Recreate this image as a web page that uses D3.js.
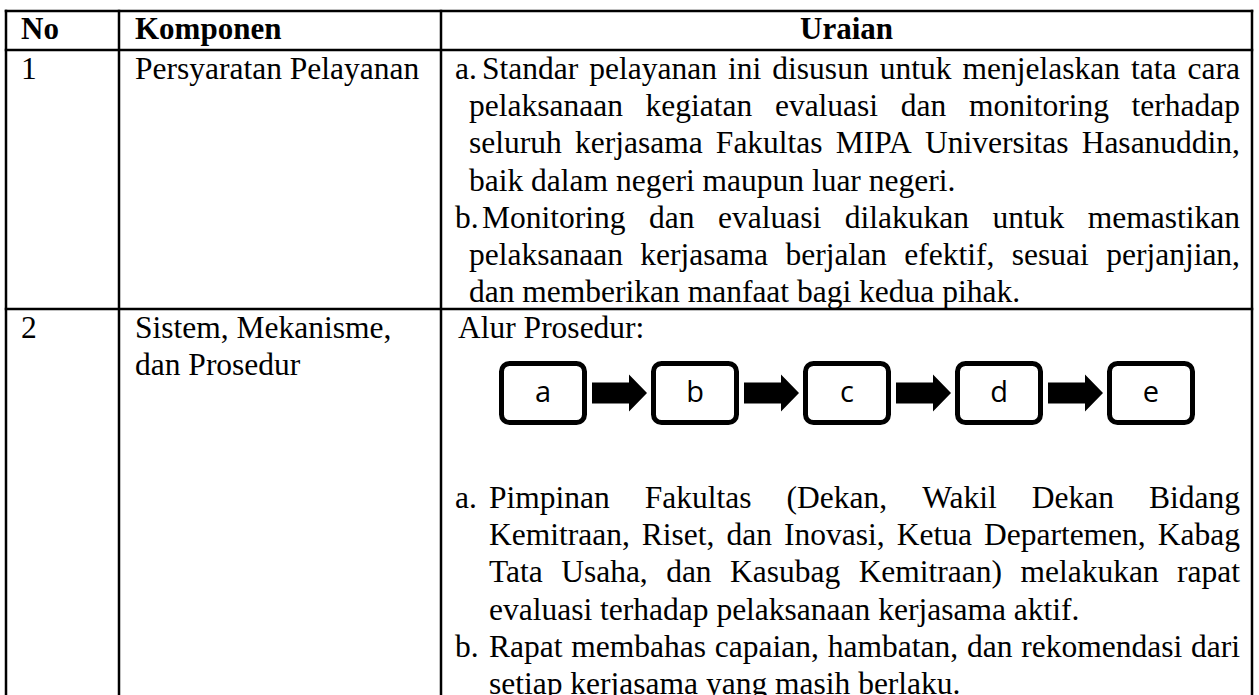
<!DOCTYPE html>
<html>
<head>
<meta charset="utf-8">
<script src="https://cdn.jsdelivr.net/npm/d3@7"></script>
<style>
  html, body { margin: 0; padding: 0; background: #fff; }
  svg { display: block; }
</style>
</head>
<body>
<svg id="chart" width="1259" height="695"></svg>
<script>
// ---------- content ----------
const headers = ["No", "Komponen", "Uraian"];
const rowNumbers = ["1", "2"];
const components = [["Persyaratan Pelayanan"], ["Sistem, Mekanisme,", "dan Prosedur"]];
const row1Labels = ["a.", "b."];
const row1Lines = [
  ["Standar pelayanan ini disusun untuk menjelaskan tata cara",
   "pelaksanaan kegiatan evaluasi dan monitoring terhadap",
   "seluruh kerjasama Fakultas MIPA Universitas Hasanuddin,",
   "baik dalam negeri maupun luar negeri."],
  ["Monitoring dan evaluasi dilakukan untuk memastikan",
   "pelaksanaan kerjasama berjalan efektif, sesuai perjanjian,",
   "dan memberikan manfaat bagi kedua pihak."]
];
const row2Intro = "Alur Prosedur:";
const flowSteps = ["a", "b", "c", "d", "e"];
const row2Labels = ["a.", "b."];
const row2Lines = [
  ["Pimpinan Fakultas (Dekan, Wakil Dekan Bidang",
   "Kemitraan, Riset, dan Inovasi, Ketua Departemen, Kabag",
   "Tata Usaha, dan Kasubag Kemitraan) melakukan rapat",
   "evaluasi terhadap pelaksanaan kerjasama aktif."],
  ["Rapat membahas capaian, hambatan, dan rekomendasi dari",
   "setiap kerjasama yang masih berlaku."]
];

// ---------- layout ----------
const svg = d3.select("#chart");
const serif = "'Liberation Serif', 'Times New Roman', serif";
const fontSize = 31.5;
const lineH = 37.2;

const colEdges = [6, 119, 441, 1252];
const rowEdges = [11, 50, 309, 760];
const padL = 15;
const textRight = 1240;

// line index -> baseline
const y1 = d3.scaleLinear().domain([0, 1]).range([rowEdges[1] + 29, rowEdges[1] + 29 + lineH]);
const y2 = d3.scaleLinear().domain([0, 1]).range([rowEdges[2] + 29, rowEdges[2] + 29 + lineH]);
const y2b = d3.scaleLinear().domain([0, 1]).range([508, 508 + lineH]);

// grid lines
const g = svg.append("g");
g.selectAll("line.v").data(colEdges).join("line")
  .attr("x1", d => d).attr("x2", d => d)
  .attr("y1", rowEdges[0] - 1.25).attr("y2", rowEdges[3])
  .attr("stroke", "#000").attr("stroke-width", 2.5);
g.selectAll("line.h").data(rowEdges.slice(0, 3)).join("line")
  .attr("x1", colEdges[0] - 1.25).attr("x2", colEdges[3] + 1.25)
  .attr("y1", d => d).attr("y2", d => d)
  .attr("stroke", "#000").attr("stroke-width", 2.5);

// headers
const headerBase = rowEdges[0] + 28;
const hdr = (x, s, anchor) => svg.append("text").attr("x", x).attr("y", headerBase)
  .attr("text-anchor", anchor)
  .attr("font-family", serif).attr("font-size", 31).attr("font-weight", "bold").text(s);
hdr(colEdges[0] + padL, headers[0], "start");
hdr(colEdges[1] + padL + 1, headers[1], "start");
hdr((colEdges[2] + colEdges[3]) / 2, headers[2], "middle");

function plain(x, y, s) {
  return svg.append("text").attr("x", x).attr("y", y)
    .attr("font-family", serif).attr("font-size", fontSize).attr("fill", "#000").text(s);
}

// justified line: words spread from x0 to x1
function justified(x0, x1, y, s) {
  const words = s.split(" ");
  const t = svg.append("text").attr("y", y)
    .attr("font-family", serif).attr("font-size", fontSize).attr("fill", "#000");
  const spans = words.map(w => t.append("tspan").text(w));
  const widths = spans.map(sp => sp.node().getComputedTextLength());
  const total = d3.sum(widths);
  const gap = (x1 - x0 - total) / (words.length - 1);
  let x = x0;
  spans.forEach((sp, i) => { sp.attr("x", x); x += widths[i] + gap; });
}

function paragraphs(labels, lines, yScale, labelX, firstX, contX) {
  let idx = 0;
  lines.forEach((para, p) => {
    plain(labelX, yScale(idx), labels[p]);
    para.forEach((ln, i) => {
      const x0 = i === 0 ? firstX : contX;
      if (i < para.length - 1) justified(x0, textRight, yScale(idx), ln);
      else plain(x0, yScale(idx), ln);
      idx++;
    });
  });
}

// row 1
plain(colEdges[0] + padL, y1(0), rowNumbers[0]);
components[0].forEach((s, i) => plain(colEdges[1] + padL + 1, y1(i), s));
paragraphs(row1Labels, row1Lines, y1, 455, 482, 469);

// row 2
plain(colEdges[0] + padL, y2(0), rowNumbers[1]);
components[1].forEach((s, i) => plain(colEdges[1] + padL + 1, y2(i), s));
plain(458, y2(0), row2Intro);
paragraphs(row2Labels, row2Lines, y2b, 455, 489, 489);

// flow diagram
const boxW = 83, boxTop = 363.5, boxH = 59, sw = 5;
const fx = d3.scaleLinear().domain([0, flowSteps.length - 1]).range([501.5, 1109.5]);
const cy = boxTop + boxH / 2;
const fg = svg.append("g");
fg.selectAll("rect").data(flowSteps).join("rect")
  .attr("x", (d, i) => fx(i)).attr("y", boxTop)
  .attr("width", boxW).attr("height", boxH)
  .attr("rx", 8).attr("ry", 8)
  .attr("fill", "#fff").attr("stroke", "#000").attr("stroke-width", sw);
fg.selectAll("text").data(flowSteps).join("text")
  .attr("x", (d, i) => fx(i) + boxW / 2).attr("y", cy + 9)
  .attr("text-anchor", "middle")
  .attr("font-family", "'Open Sans', 'Noto Sans', sans-serif").attr("font-size", 29)
  .attr("fill", "#000").text(d => d);
fg.selectAll("path").data(flowSteps.slice(0, -1)).join("path")
  .attr("d", (d, i) => {
    const a0 = fx(i) + boxW + sw / 2 + 5, a1 = fx(i + 1) - sw / 2 - 4;
    const hx = a1 - 18, sh = 10.5, hh = 18.5;
    return `M${a0},${cy - sh}L${hx},${cy - sh}L${hx},${cy - hh}L${a1},${cy}L${hx},${cy + hh}L${hx},${cy + sh}L${a0},${cy + sh}Z`;
  })
  .attr("fill", "#000");
</script>
</body>
</html>
